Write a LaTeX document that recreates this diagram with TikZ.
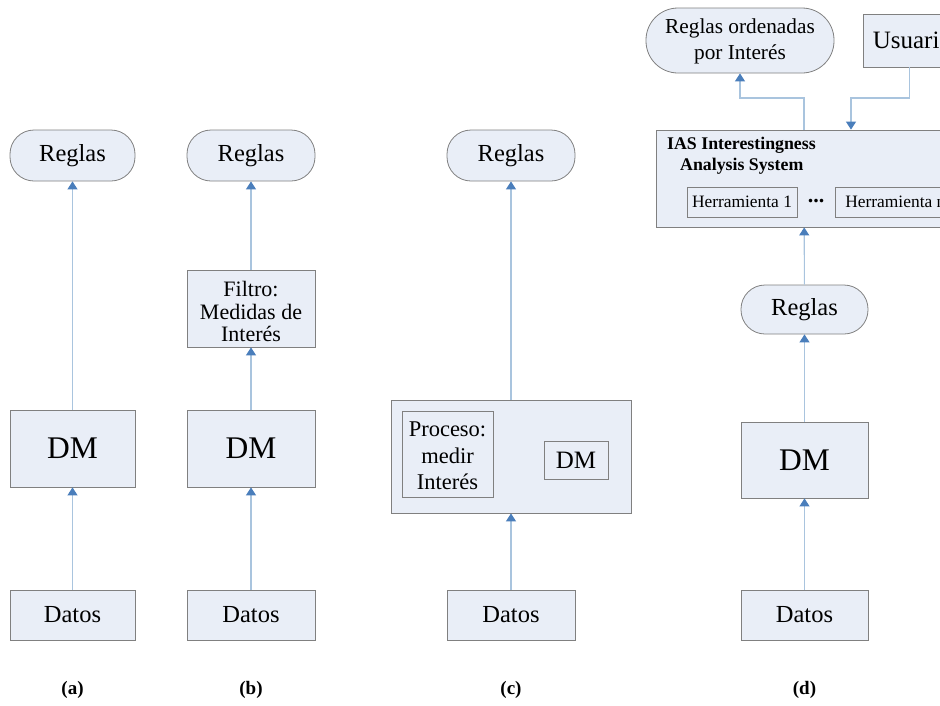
\documentclass[tikz,border=0pt]{standalone}
\usepackage{fontspec}
\setmainfont{Liberation Serif}
\usetikzlibrary{arrows.meta}
\definecolor{boxfill}{HTML}{E9EEF7}
\definecolor{boxline}{HTML}{808080}
\definecolor{linkline}{HTML}{A9C4DE}
\definecolor{linkhead}{HTML}{4A7EBB}
\newcommand{\fs}[1]{\fontsize{#1}{1.08\dimexpr#1pt\relax}\selectfont}
\begin{document}
\begin{tikzpicture}[x=1pt,y=-1pt,
  box/.style={draw=boxline,fill=boxfill,line width=0.8pt,inner sep=0pt,align=center},
  pill/.style={box,rounded corners=24pt},
  inbox/.style={draw=boxline,fill=boxfill,line width=0.7pt,inner sep=0pt,align=center},
  arr/.style={draw=linkline,line width=1.1pt,-{Triangle[length=8pt,width=10pt,color=linkhead]}},
  sublabel/.style={font=\bfseries\fs{19}}]
\useasboundingbox (0,0) rectangle (940,705);
\clip (0,0) rectangle (940,705);

% (a) plain mining
\node[pill,minimum width=125pt,minimum height=51pt,font=\fs{24.5}] (ra) at (72.5,155.5) {Reglas};
\node[box,minimum width=125pt,minimum height=77pt,font=\fs{31.5}] (dma) at (72.5,448.5) {DM};
\node[box,minimum width=125pt,minimum height=50pt,font=\fs{24.5}] (da) at (72.5,615) {Datos};
\draw[arr] (da) -- (dma);
\draw[arr] (dma) -- (ra);
\node[sublabel] (ca) at (72.5,690) {(a)};

% (b) mining followed by a filter
\node[pill,minimum width=128pt,minimum height=51pt,font=\fs{24.5}] (rb) at (251,155.5) {Reglas};
\node[box,minimum width=128pt,minimum height=77pt] (fb) at (251,308.5) {};
\node[inner sep=0pt,align=center,font=\fs{22}] (fbt) at (251,311.5) {Filtro:\\[-1pt]Medidas de\\[-1pt]Interés};
\node[box,minimum width=128pt,minimum height=77pt,font=\fs{31.5}] (dmb) at (251,448.5) {DM};
\node[box,minimum width=128pt,minimum height=50pt,font=\fs{24.5}] (db) at (251,615) {Datos};
\draw[arr] (db) -- (dmb);
\draw[arr] (dmb) -- (fb);
\draw[arr] (fb) -- (rb);
\node[sublabel] (cb) at (251,690) {(b)};

% (c) interest measured inside the mining process
\node[pill,minimum width=128pt,minimum height=51pt,font=\fs{24.5}] (rc) at (511,155.5) {Reglas};
\node[box,minimum width=240pt,minimum height=113pt] (pc) at (511,456.5) {};
\node[inbox,minimum width=91pt,minimum height=86pt] (mc) at (447.5,454) {};
\node[inner sep=0pt,align=center,font=\fs{22.5}] (mct) at (447.5,456) {Proceso:\\[2pt]medir\\[2pt]Interés};
\node[inbox,minimum width=64pt,minimum height=38pt,font=\fs{25}] (dmc) at (576,460) {DM};
\node[box,minimum width=128pt,minimum height=50pt,font=\fs{24.5}] (dc) at (511,615) {Datos};
\draw[arr] (dc) -- (pc);
\draw[arr] (pc) -- (rc);
\node[sublabel] (cc) at (511,690) {(c)};

% (d) interestingness analysis system
\node[pill,rounded corners=32pt,minimum width=188pt,minimum height=65pt] (ro) at (740,40.5) {};
\node[inner sep=0pt,align=center,font=\fs{21.3}] (rot) at (740,41) {Reglas ordenadas\\[3pt]por Interés};
\node[box,minimum width=92pt,minimum height=53pt,font=\fs{25},anchor=west] (us) at (863,40.5) {\hspace*{6pt}Usuario\hfill};
\node[box,minimum width=296pt,minimum height=97pt] (ias) at (804,178.5) {};
\node[anchor=north west,inner sep=0pt,align=left,font=\bfseries\fs{17.8}] (iast) at (667,137) {IAS Interestingness\\[2pt]\hspace*{13pt}Analysis System};
\node[inbox,minimum width=110pt,minimum height=30pt,font=\fs{17.4}] (h1) at (742,202) {Herramienta 1};
\node[inner sep=0pt,font=\bfseries\fs{22}] (hd) at (816,201) {...};
\node[inbox,minimum width=115pt,minimum height=30pt,font=\fs{17.4},anchor=west] (hn) at (835,202) {\hspace*{5pt}Herramienta n\hfill};
\node[pill,minimum width=127pt,minimum height=49pt,font=\fs{24.5}] (rd) at (804.5,309.5) {Reglas};
\node[box,minimum width=127pt,minimum height=76pt,font=\fs{31.5}] (dmd) at (804.5,460) {DM};
\node[box,minimum width=127pt,minimum height=50pt,font=\fs{24.5}] (dd) at (804.5,615) {Datos};
\coordinate (rbend) at (740,98);
\coordinate (ubend) at (851,98);
\draw[arr] (dd) -- (dmd);
\draw[arr] (dmd) -- (rd);
\draw[arr] (rd) -- (ias);
\draw[arr] (ias.north) |- (rbend) -- (ro.south);
\draw[arr] (us.south) |- (ubend) -- (ubend |- ias.north);
\node[sublabel] (cd) at (804.5,690) {(d)};
\end{tikzpicture}
\end{document}
